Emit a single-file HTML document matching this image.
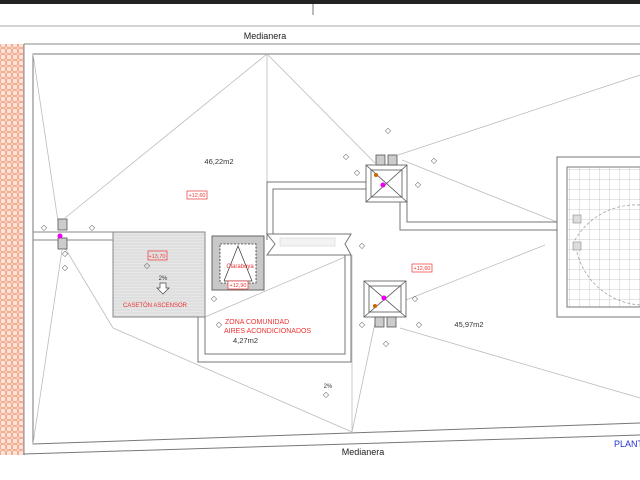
<!DOCTYPE html>
<html><head><meta charset="utf-8"><style>
html,body{margin:0;padding:0;background:#fff;width:640px;height:480px;overflow:hidden}
svg{display:block}
text{font-family:"Liberation Sans",sans-serif}
</style></head><body>
<svg width="640" height="480" viewBox="0 0 640 480" xmlns="http://www.w3.org/2000/svg">
<defs>
<pattern id="brick" width="6" height="6" patternUnits="userSpaceOnUse">
<rect width="6" height="6" fill="#fbe3d8"/><rect x="0.5" y="0.5" width="5" height="5" rx="1.5" fill="none" stroke="#f0a080" stroke-width="0.8"/>
</pattern>
<pattern id="hatch" width="3" height="3" patternUnits="userSpaceOnUse">
<rect width="3" height="3" fill="#e6e6e6"/><line x1="0" y1="1" x2="3" y2="1" stroke="#cfcfcf" stroke-width="0.6"/>
</pattern>
<pattern id="grid" width="10" height="10" patternUnits="userSpaceOnUse">
<rect width="10" height="10" fill="#fff"/><path d="M10 0V10M0 10H10" stroke="#999" stroke-width="0.5"/>
</pattern>
</defs>
<rect x="0" y="0" width="640" height="4" fill="#222"/>
<line x1="313" y1="4" x2="313" y2="15" stroke="#777"/>
<line x1="0" y1="26" x2="640" y2="26" stroke="#aaa"/>
<text x="265" y="39" font-size="9" text-anchor="middle" fill="#222">Medianera</text>
<line x1="24" y1="44" x2="640" y2="44" stroke="#888"/>
<rect x="0" y="44" width="24" height="411" fill="url(#brick)"/>
<line x1="24" y1="44" x2="24" y2="455" stroke="#888"/>
<!-- inner border -->
<polyline points="640,54 33,54 33,444 640,423" fill="none" stroke="#777"/>
<line x1="24" y1="454" x2="640" y2="435" stroke="#777"/>
<text x="363" y="455" font-size="9" text-anchor="middle" fill="#222">Medianera</text>
<text x="614" y="447" font-size="9" fill="#2233cc">PLANT</text>
<!-- ridge lines -->
<g stroke="#bbb" stroke-width="0.8" fill="none">
<line x1="267" y1="54" x2="65" y2="218"/>
<line x1="267" y1="54" x2="267" y2="182"/>
<line x1="267" y1="54" x2="375" y2="163"/>
<line x1="33" y1="54" x2="59" y2="228"/>
<line x1="398" y1="155" x2="640" y2="75"/>
<line x1="402" y1="160" x2="557" y2="222"/>
<line x1="65" y1="248" x2="113" y2="328"/>
<line x1="113" y1="328" x2="352" y2="432"/>
<line x1="33" y1="444" x2="62" y2="250"/>
<line x1="352" y1="255" x2="352" y2="432"/>
<line x1="352" y1="432" x2="375" y2="323"/>
<line x1="400" y1="328" x2="640" y2="398"/>
<line x1="205" y1="317" x2="345" y2="257"/>
<line x1="406" y1="300" x2="545" y2="245"/>
</g>
<!-- horizontal band at y~232 -->
<line x1="33" y1="232" x2="113" y2="232" stroke="#888"/>
<line x1="33" y1="240" x2="113" y2="240" stroke="#888"/>
<!-- duct -->
<g fill="none" stroke="#777">
<polyline points="267,240 267,182 366,182"/>
<polyline points="273,240 273,189 366,189"/>
<polyline points="407,202 407,222 557,222"/>
<polyline points="400,202 400,230 557,230"/>
</g>
<!-- caseton -->
<rect x="113" y="232" width="92" height="85" fill="url(#hatch)" stroke="#888"/>
<rect x="148" y="251" width="19" height="9" fill="none" stroke="#e33" stroke-width="0.7"/>
<text x="157" y="258" font-size="5.5" fill="#e33" text-anchor="middle">+13,70</text>
<text x="163" y="280" font-size="6" fill="#333" text-anchor="middle">2%</text>
<path d="M160 283h6v5h3l-6 6-6-6h3z" fill="#fff" stroke="#444" stroke-width="0.7"/>
<text x="155" y="307" font-size="6" fill="#e33" text-anchor="middle">CASETÓN ASCENSOR</text>
<!-- claraboya -->
<rect x="212" y="236" width="52" height="54" fill="#c8c8c8" stroke="#666"/>
<rect x="220" y="244" width="36" height="39" fill="#fff" stroke="#333" stroke-dasharray="2,1.5" stroke-width="0.8"/>
<polyline points="224,281 238,246 252,281 224,281" fill="none" stroke="#333" stroke-width="0.7"/>
<text x="240" y="268" font-size="6" fill="#e33" text-anchor="middle">Claraboya</text>
<rect x="228" y="281" width="20" height="8" fill="#fff" stroke="#e33" stroke-width="0.7"/>
<text x="238" y="287" font-size="5.5" fill="#e33" text-anchor="middle">+12,90</text>
<!-- duct top piece -->
<path d="M267 234 L351 234 L345 244 L351 255 L267 255 L275 244 Z" fill="#fff" stroke="#777"/>
<rect x="280" y="238" width="55" height="8" fill="#f3f3f3" stroke="#ccc" stroke-width="0.5"/>
<!-- zona rect -->
<polyline points="198,317 198,362 351,362 351,255" fill="none" stroke="#777"/>
<polyline points="205,317 205,354 345,354 345,255" fill="none" stroke="#777"/>
<text x="225" y="324" font-size="7" fill="#e33">ZONA COMUNIDAD</text>
<text x="224" y="333" font-size="7" fill="#e33">AIRES ACONDICIONADOS</text>
<text x="233" y="343" font-size="7.5" fill="#333">4,27m2</text>
<text x="219" y="164" font-size="7.5" fill="#333" text-anchor="middle">46,22m2</text>
<rect x="187" y="191" width="20" height="8" fill="#fff" stroke="#e33" stroke-width="0.7"/>
<text x="197" y="197" font-size="5.5" fill="#e33" text-anchor="middle">+12,60</text>
<rect x="412" y="264" width="20" height="8" fill="#fff" stroke="#e33" stroke-width="0.7"/>
<text x="422" y="270" font-size="5.5" fill="#e33" text-anchor="middle">+12,60</text>
<text x="469" y="327" font-size="7.5" fill="#333" text-anchor="middle">45,97m2</text>
<text x="328" y="388" font-size="6" fill="#333" text-anchor="middle">2%</text>
<!-- boxes -->
<g stroke="#555" fill="#fff" stroke-width="0.8">
<rect x="366" y="165" width="41" height="37"/>
<rect x="371" y="170" width="31" height="27"/>
<line x1="366" y1="165" x2="407" y2="202"/><line x1="407" y1="165" x2="366" y2="202"/>
<rect x="376" y="155" width="9" height="10" fill="#ccc"/><rect x="388" y="155" width="9" height="10" fill="#ccc"/>
<rect x="364" y="281" width="42" height="36"/>
<rect x="369" y="286" width="32" height="26"/>
<line x1="364" y1="281" x2="406" y2="317"/><line x1="406" y1="281" x2="364" y2="317"/>
<rect x="375" y="317" width="9" height="10" fill="#ccc"/><rect x="387" y="317" width="9" height="10" fill="#ccc"/>
<rect x="58" y="219" width="9" height="11" fill="#ccc"/>
<rect x="58" y="238" width="9" height="11" fill="#ccc"/>
</g>
<circle cx="383" cy="185" r="2.5" fill="#e0e"/><circle cx="376" cy="175" r="2" fill="#c60"/>
<circle cx="384" cy="298" r="2.5" fill="#e0e"/><circle cx="375" cy="306" r="2" fill="#c60"/>
<circle cx="60" cy="236" r="2.5" fill="#e0e"/>
<!-- right element -->
<rect x="557" y="157" width="90" height="160" fill="#fff" stroke="#777"/>
<rect x="567" y="167" width="80" height="140" fill="url(#grid)" stroke="#777"/>
<path d="M640 205 A70 70 0 0 0 575 240 A70 70 0 0 0 640 305" fill="none" stroke="#999" stroke-dasharray="3,2" stroke-width="0.7"/>
<rect x="573" y="215" width="8" height="8" fill="#ddd" stroke="#777" stroke-width="0.5"/>
<rect x="573" y="242" width="8" height="8" fill="#ddd" stroke="#777" stroke-width="0.5"/>
<!-- drain symbols -->
<g font-size="8" fill="#555" text-anchor="middle">
<text x="65" y="256">◇</text><text x="44" y="230">◇</text><text x="92" y="230">◇</text><text x="65" y="270">◇</text>
<text x="388" y="133">◇</text><text x="346" y="159">◇</text><text x="434" y="163">◇</text><text x="357" y="175">◇</text><text x="418" y="187">◇</text>
<text x="147" y="268">◇</text><text x="214" y="301">◇</text><text x="219" y="327">◇</text>
<text x="362" y="248">◇</text><text x="415" y="301">◇</text><text x="362" y="327">◇</text><text x="419" y="327">◇</text><text x="386" y="346">◇</text>
<text x="326" y="397">◇</text>
</g>
</svg>
</body></html>
